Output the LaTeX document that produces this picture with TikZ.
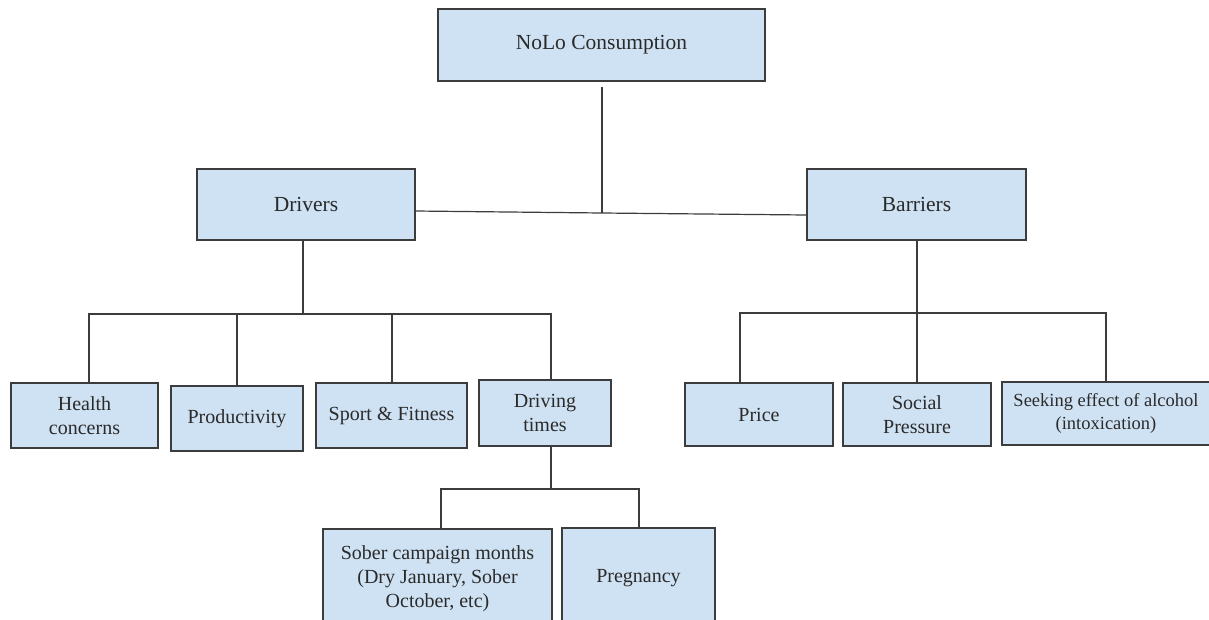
\documentclass[tikz,border=0pt]{standalone}
\usepackage{fontspec}
\setmainfont{Liberation Serif}
\definecolor{boxfill}{HTML}{CFE2F3}
\definecolor{boxline}{HTML}{3C3C3C}
\definecolor{txt}{HTML}{2A2A2A}
\tikzset{
  box/.style={draw=boxline, fill=boxfill, line width=1.2pt, inner sep=0pt,
    align=center, text=txt, font=\fontsize{20}{24}\selectfont},
  topbox/.style={box, font=\fontsize{21.5}{26}\selectfont},
  conn/.style={draw=boxline, line width=1.2pt}
}
\begin{document}
\begin{tikzpicture}[x=1pt, y=-1pt]
\useasboundingbox (0,0) rectangle (1209,619);
\clip (0,0) rectangle (1209,619);
% level 0 and 1
\node[topbox, minimum width=327pt, minimum height=72pt] (nolo) at (601.5,45) {NoLo Consumption};
\node[topbox, minimum width=218pt, minimum height=71pt] (drivers) at (306,204.5) {Drivers};
\node[topbox, minimum width=219pt, minimum height=71pt] (barriers) at (916.5,204.5) {Barriers};
% drivers children
\node[box, minimum width=147pt, minimum height=65pt] (health) at (84.5,415.5) {Health\\concerns};
\node[box, minimum width=132pt, minimum height=65pt] (productivity) at (237,418.5) {Productivity};
\node[box, minimum width=151pt, minimum height=65pt] (sport) at (391.5,415.5) {Sport \& Fitness};
\node[box, minimum width=132pt, minimum height=66pt] (drivingtimes) at (545,413) {Driving\\times};
% driving times children
\node[box, minimum width=229pt, minimum height=100pt] (sober) at (437.5,579) {Sober campaign months\\(Dry January, Sober\\October, etc)};
\node[box, minimum width=153pt, minimum height=100pt] (pregnancy) at (638.5,578) {Pregnancy};
% barriers children
\node[box, minimum width=148pt, minimum height=63pt] (price) at (759,414.5) {Price};
\node[box, minimum width=148pt, minimum height=63pt] (social) at (917,414.5) {Social\\Pressure};
\node[box, minimum width=208pt, minimum height=63pt, font=\fontsize{18.5}{23}\selectfont] (seeking) at (1106,413.5) {Seeking effect of alcohol\\(intoxication)};
% connector points
\coordinate (top) at (602,213);
\coordinate (dbus) at (303,314);
\coordinate (bbus) at (917,313);
\coordinate (tbus) at (551,489);
\path ([yshift=-5pt]nolo.south) coordinate (noloS)
      ([yshift=-6.5pt]drivers.east) coordinate (drvE)
      ([yshift=-10.5pt]barriers.west) coordinate (barW)
      ([xshift=-3pt]drivers.south) coordinate (drvS)
      ([xshift=4.5pt]health.north) coordinate (hN)
      ([xshift=0.5pt]sport.north) coordinate (spN)
      ([xshift=6pt]drivingtimes.north) coordinate (dtN)
      ([xshift=6pt]drivingtimes.south) coordinate (dtS)
      ([xshift=3.5pt]sober.north) coordinate (sbN)
      ([xshift=0.5pt]pregnancy.north) coordinate (pgN)
      ([xshift=-19pt]price.north) coordinate (prN);
% connectors
\draw[conn] (top |- noloS) -- (top);
\draw[conn] (drvE) -- (top) -- (barW);
\draw[conn] (drvS) -- (dbus);
\draw[conn] (hN) |- (dbus) -| (dtN);
\draw[conn] (productivity.north) -- (productivity.north |- dbus);
\draw[conn] (spN) -- (spN |- dbus);
\draw[conn] (bbus |- barriers.south) -- (bbus);
\draw[conn] (prN) |- (bbus) -| (seeking.north);
\draw[conn] (social.north) -- (social.north |- bbus);
\draw[conn] (dtS) -- (tbus);
\draw[conn] (sbN) |- (tbus) -| (pgN);
\end{tikzpicture}
\end{document}
